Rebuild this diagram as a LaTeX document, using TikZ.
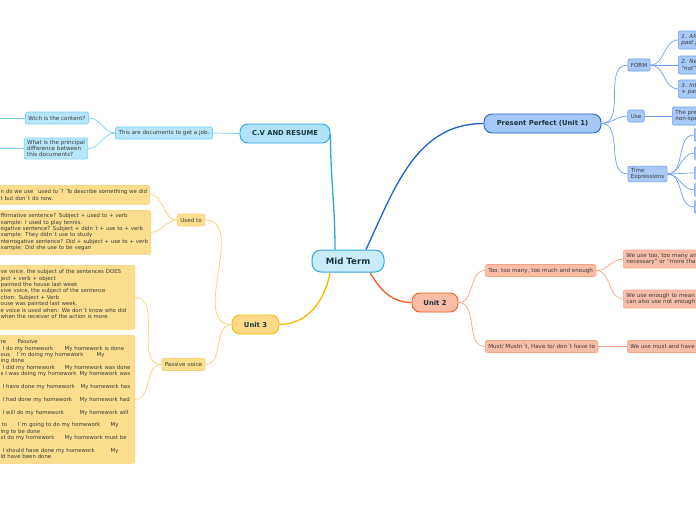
\documentclass[tikz,border=0pt]{standalone}
\usepackage{fontspec}
\setmainfont{DejaVu Sans}
\definecolor{titletext}{HTML}{17343A}
\definecolor{bodytext}{HTML}{3A3A3A}
\definecolor{midfill}{HTML}{C8ECFB}
\definecolor{midline}{HTML}{2EA6DF}
\definecolor{cvfill}{HTML}{B0E3FA}
\definecolor{cvline}{HTML}{2AA5E0}
\definecolor{cvleaf}{HTML}{B7E6FB}
\definecolor{cvsoft}{HTML}{7DCFF4}
\definecolor{ppfill}{HTML}{A6C8F9}
\definecolor{ppline}{HTML}{1F5FCF}
\definecolor{ppleaf}{HTML}{A9C9F8}
\definecolor{ppsoft}{HTML}{6E9FEE}
\definecolor{twofill}{HTML}{F9BCA4}
\definecolor{twoline}{HTML}{F05A24}
\definecolor{twoleaf}{HTML}{F9BEA8}
\definecolor{twosoft}{HTML}{F7A386}
\definecolor{threefill}{HTML}{FDDA8A}
\definecolor{threeline}{HTML}{F6B700}
\definecolor{threeleaf}{HTML}{FDDE8E}
\definecolor{threesoft}{HTML}{FBD072}
\newcommand\colat[2]{\makebox[0pt][l]{\hspace*{#1}#2}}
\tikzset{
  root/.style={draw=midline, fill=midfill, line width=1pt, rounded corners=9pt,
    minimum width=72pt, minimum height=22pt, text=titletext,
    font=\fontsize{8.6}{10}\selectfont\bfseries},
  topic/.style={line width=0.9pt, rounded corners=8pt, minimum height=19pt,
    text=titletext, font=\fontsize{6.8}{8}\selectfont\bfseries},
  leaf/.style={line width=0.6pt, rounded corners=2pt, minimum height=12pt,
    inner xsep=3pt, inner ysep=2pt, align=left, text=bodytext,
    font=\fontsize{5.6}{6.4}\selectfont},
  cutleaf/.style={font=\fontsize{5.4}{6.4}\selectfont},
  cvbox/.style={leaf, draw=cvsoft, fill=cvleaf},
  ppbox/.style={leaf, draw=ppsoft, fill=ppleaf},
  twobox/.style={leaf, draw=twosoft, fill=twoleaf},
  threebox/.style={leaf, draw=threesoft, fill=threeleaf},
  bigedge/.style={line width=1.3pt},
  twig/.style={line width=0.7pt}
}
\begin{document}
\begin{tikzpicture}[x=1pt,y=1pt]
\useasboundingbox (0,0) rectangle (696,-520);
\clip (0,0) rectangle (696,-520);

\node[root] (mid) at (348,-261) {Mid Term};
\node[topic, draw=cvline, fill=cvfill, minimum width=90pt] (cv) at (285,-133.5) {C.V AND RESUME};
\node[topic, draw=ppline, fill=ppfill, minimum width=117pt] (pp) at (542.5,-123.5) {Present Perfect (Unit 1)};
\node[topic, draw=twoline, fill=twofill, minimum width=46pt] (unittwo) at (435,-302.5) {Unit 2};
\node[topic, draw=threeline, fill=threefill, minimum width=47pt] (unitthree) at (255.5,-324.5) {Unit 3};

\draw[bigedge, cvline] ([xshift=-13pt]mid.north) to[out=90,in=-90] (cv.east);
\draw[bigedge, ppline] ([xshift=18pt]mid.north) to[out=65,in=180] (pp.west);
\draw[bigedge, twoline] ([xshift=22pt]mid.south) to[out=-60,in=180] (unittwo.west);
\draw[bigedge, threeline] ([xshift=-18pt]mid.south) to[out=-100,in=0] (unitthree.east);

% C.V and resume
\node[cvbox] (cvjob) at (164,-133) {This are documents to get a job.};
\node[cvbox] (wich) at (57,-118) {Wich is the content?};
\node[cvbox] (whatdiff) at (56,-148.5) {What is the principal\\difference between\\this documents?};
\coordinate (wichout) at (0,-118);
\coordinate (whatout) at (0,-148.5);
\draw[twig, cvsoft] (cv.west) -- (cvjob.east);
\draw[twig, cvsoft] (cvjob.west) to[out=180,in=0] (wich.east);
\draw[twig, cvsoft] (cvjob.west) to[out=180,in=0] (whatdiff.east);
\draw[twig, cvsoft] (wich.west) -- (wichout);
\draw[twig, cvsoft] (whatdiff.west) -- (whatout);

% present perfect
\node[ppbox] (form) at (639,-65) {FORM};
\node[ppbox] (use) at (636,-116) {Use};
\node[ppbox] (timeexp) at (647.5,-174) {Time\\Expressions};
\node[ppbox, anchor=west, text width=60pt, minimum height=18pt, font=\fontsize{5.6}{6.4}\selectfont\itshape] (formaff) at (678,-40) {1. Affi\\past pa};
\node[ppbox, anchor=west, text width=60pt, minimum height=18pt, font=\fontsize{5.6}{6.4}\selectfont\itshape] (formneg) at (678,-65) {2. Neg\\“not”};
\node[ppbox, anchor=west, text width=60pt, minimum height=18pt, font=\fontsize{5.6}{6.4}\selectfont\itshape] (formint) at (678,-89) {3. Int\\+ pas};
\node[ppbox, anchor=west, text width=60pt, minimum height=18pt] (usewhen) at (672,-116) {The pres\\non-spe};
\draw[twig, ppsoft] (pp.east) to[out=0,in=180] (form.west);
\draw[twig, ppsoft] (pp.east) to[out=0,in=180] (use.west);
\draw[twig, ppsoft] (pp.east) to[out=0,in=180] (timeexp.west);
\draw[twig, ppsoft] (form.east) to[out=0,in=180] (formaff.west);
\draw[twig, ppsoft] (form.east) -- (formneg.west);
\draw[twig, ppsoft] (form.east) to[out=0,in=180] (formint.west);
\draw[twig, ppsoft] (use.east) -- (usewhen.west);
\foreach \y [count=\i] in {135,153,173,190,207}
{
  \node[ppbox, anchor=west, minimum width=14pt, minimum height=13pt] (timeex\i) at (694,-\y) {};
  \draw[twig, ppsoft] (timeexp.east) to[out=0,in=180] (timeex\i.west);
}

% unit 2
\node[twobox, anchor=west] (toomuch) at (485,-270.5) {Too, too many, too much and enough};
\node[twobox, anchor=west] (mustnt) at (485,-346.5) {Must/ Mustn´t, Have to/ don´t have to};
\node[twobox, anchor=west, text width=80pt, minimum height=18pt] (toouse) at (623,-259) {We use too, too many an\\necessary” or “more than};
\node[twobox, anchor=west, text width=80pt, minimum height=18pt] (enoughuse) at (623,-299) {We use enough to mean\\can also use not enough};
\node[twobox, anchor=west, text width=80pt] (mustuse) at (627,-346.5) {We use must and have};
\draw[twig, twosoft] (unittwo.east) to[out=0,in=180] (toomuch.west);
\draw[twig, twosoft] (unittwo.east) to[out=0,in=180] (mustnt.west);
\draw[twig, twosoft] (toomuch.east) to[out=0,in=180] (toouse.west);
\draw[twig, twosoft] (toomuch.east) to[out=0,in=180] (enoughuse.west);
\draw[twig, twosoft] (mustnt.east) -- (mustuse.west);

% unit 3
\node[threebox] (usedto) at (191,-220) {Used to};
\node[threebox] (passive) at (183.5,-364.5) {Passive voice};
\node[threebox, cutleaf, anchor=north east, text width=146pt, minimum height=19pt] (usedwhen) at (150,-185)
  {\colat{0pt}{n do we use ´used to´? To describe something we did}\\
   \colat{0pt}{t but don´t do now.}};
\node[threebox, cutleaf, anchor=north east, text width=147pt, minimum height=44pt] (usedform) at (151,-210)
  {\colat{0pt}{ffirmative sentence? Subject + used to + verb}\\
   \colat{0pt}{xample: I used to play tennis.}\\
   \colat{0pt}{egative sentence? Subject + didn´t + use to + verb}\\
   \colat{0pt}{xample: They didn´t use to study}\\
   \colat{0pt}{nterrogative sentence? Did + subject + use to + verb}\\
   \colat{0pt}{xample: Did she use to be vegan}};
\node[threebox, cutleaf, anchor=north east, text width=131pt, minimum height=64pt] (passrule) at (135,-265)
  {\colat{0pt}{ve voice, the subject of the sentences DOES}\\
   \colat{0pt}{ject + verb + object}\\
   \colat{0pt}{painted the house last week}\\
   \colat{0pt}{sive voice, the subject of the sentence}\\
   \colat{0pt}{ction: Subject + Verb}\\
   \colat{0pt}{ouse was painted last week.}\\
   \colat{0pt}{e voice is used when: We don´t know who did}\\
   \colat{0pt}{when the receiver of the action is more}\\
   \mbox{}};
\node[threebox, cutleaf, anchor=north east, text width=131pt, minimum height=128pt] (passtense) at (135,-335)
  {\colat{0pt}{re}\colat{17pt}{Passive}\\
   \colat{2pt}{I do my homework}\colat{64pt}{My homework is done}\\
   \colat{0pt}{ous}\colat{16pt}{I´m doing my homework}\colat{96pt}{My}\\
   \colat{0pt}{ing done}\\
   \colat{2pt}{I did my homework}\colat{64pt}{My homework was done}\\
   \colat{0pt}{s I was doing my homework}\colat{79pt}{My homework was}\\
   \mbox{}\\
   \colat{2pt}{I have done my homework}\colat{80pt}{My homework has}\\
   \mbox{}\\
   \colat{2pt}{I had done my homework}\colat{79pt}{My homework had}\\
   \mbox{}\\
   \colat{2pt}{I will do my homework}\colat{79pt}{My homework will}\\
   \mbox{}\\
   \colat{1pt}{to}\colat{17pt}{I´m going to do my homework}\colat{110pt}{My}\\
   \colat{0pt}{ing to be done}\\
   \colat{0pt}{st do my homework}\colat{64pt}{My homework must be}\\
   \mbox{}\\
   \colat{2pt}{I should have done my homework}\colat{110pt}{My}\\
   \colat{0pt}{ld have been done}};
\draw[twig, threesoft] (unitthree.west) to[out=180,in=0] (usedto.east);
\draw[twig, threesoft] (unitthree.west) to[out=180,in=0] (passive.east);
\draw[twig, threesoft] (usedto.west) to[out=180,in=0] (usedwhen.east);
\draw[twig, threesoft] (usedto.west) to[out=180,in=0] (usedform.east);
\draw[twig, threesoft] (passive.west) to[out=180,in=0] (passrule.east);
\draw[twig, threesoft] (passive.west) to[out=180,in=0] (passtense.east);
\end{tikzpicture}
\end{document}
